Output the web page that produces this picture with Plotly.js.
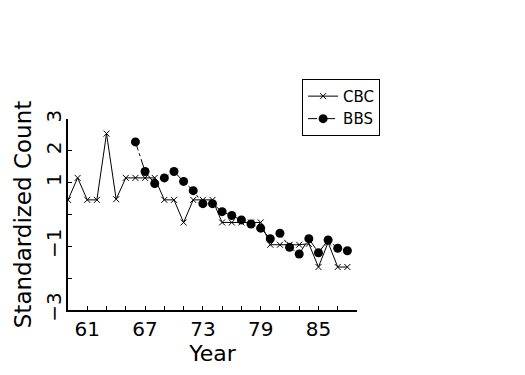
<!DOCTYPE html>
<html>
<head>
<meta charset="utf-8">
<script src="https://cdn.plot.ly/plotly-3.0.1.min.js"></script>
<style>html,body{margin:0;padding:0;background:#fff;}#chart{width:525px;height:375px;}</style>
</head>
<body>
<div id="chart"></div>
<script>
const cbcYears = [59,60,61,62,63,64,65,66,67,68,69,70,71,72,73,74,75,76,77,78,79,80,81,82,83,84,85,86,87,88];
const cbcValues = [0.46,1.15,0.46,0.46,2.54,0.48,1.15,1.15,1.15,1.15,0.46,0.46,-0.25,0.46,0.46,0.46,-0.25,-0.25,-0.25,-0.25,-0.25,-0.95,-0.95,-0.95,-0.95,-0.92,-1.65,-0.88,-1.65,-1.65];
const bbsYears = [66,67,68,69,70,71,72,73,74,75,76,77,78,79,80,81,82,83,84,85,86,87,88];
const bbsValues = [2.28,1.35,0.97,1.15,1.35,1.04,0.75,0.34,0.34,0.09,-0.03,-0.17,-0.3,-0.43,-0.76,-0.59,-1.03,-1.24,-0.76,-1.2,-0.8,-1.06,-1.14];
const xTickVals = [61,63,65,67,69,71,73,75,77,79,81,83,85,87,89];
const xTickText = ['61','','','67','','','73','','','79','','','85','',''];
const yTickVals = [-3,-2,-1,0,1,2,3];
const yTickText = ['\u22123','','\u22121','','1','2','3'];

const fontFam = 'DejaVu Sans, Liberation Sans, sans-serif';
const traces = [
  {x: cbcYears, y: cbcValues, name: 'CBC', mode: 'lines+markers', type: 'scatter',
   line: {color: '#000', width: 1},
   marker: {symbol: 'x-thin', size: 6, color: '#000', line: {color: '#000', width: 1}}},
  {x: bbsYears, y: bbsValues, name: 'BBS', mode: 'lines+markers', type: 'scatter',
   line: {color: '#000', width: 1, dash: 'dashdot'},
   marker: {symbol: 'circle', size: 9, color: '#000'}}
];
const layout = {
  width: 525, height: 375,
  margin: {l: 68, r: 168, t: 119, b: 65, pad: 0},
  paper_bgcolor: '#fff', plot_bgcolor: '#fff',
  font: {family: fontFam, color: '#000', size: 20},
  showlegend: true,
  legend: {x: 0.81, xanchor: 'left', y: 1.21, yanchor: 'top', bordercolor: '#000', borderwidth: 1,
           bgcolor: '#fff', font: {size: 15, family: fontFam}, itemwidth: 30},
  xaxis: {range: [59, 89], tickvals: xTickVals, ticktext: xTickText, ticks: 'inside', ticklen: 4,
          tickcolor: '#000', showline: true, linecolor: '#000', linewidth: 2, showgrid: false, zeroline: false,
          tickfont: {size: 20}, title: {text: 'Year', font: {size: 22}, standoff: 6}},
  yaxis: {range: [-3, 3], tickvals: yTickVals, ticktext: yTickText, ticks: 'inside', ticklen: 4,
          tickcolor: '#000', showline: true, linecolor: '#000', linewidth: 2, showgrid: false, zeroline: false,
          tickangle: -90, tickfont: {size: 20}, ticklabelstandoff: -3,
          title: {text: 'Standardized Count', font: {size: 23}, standoff: 4}}
};
Plotly.newPlot('chart', traces, layout, {displayModeBar: false, staticPlot: true});
</script>
</body>
</html>
